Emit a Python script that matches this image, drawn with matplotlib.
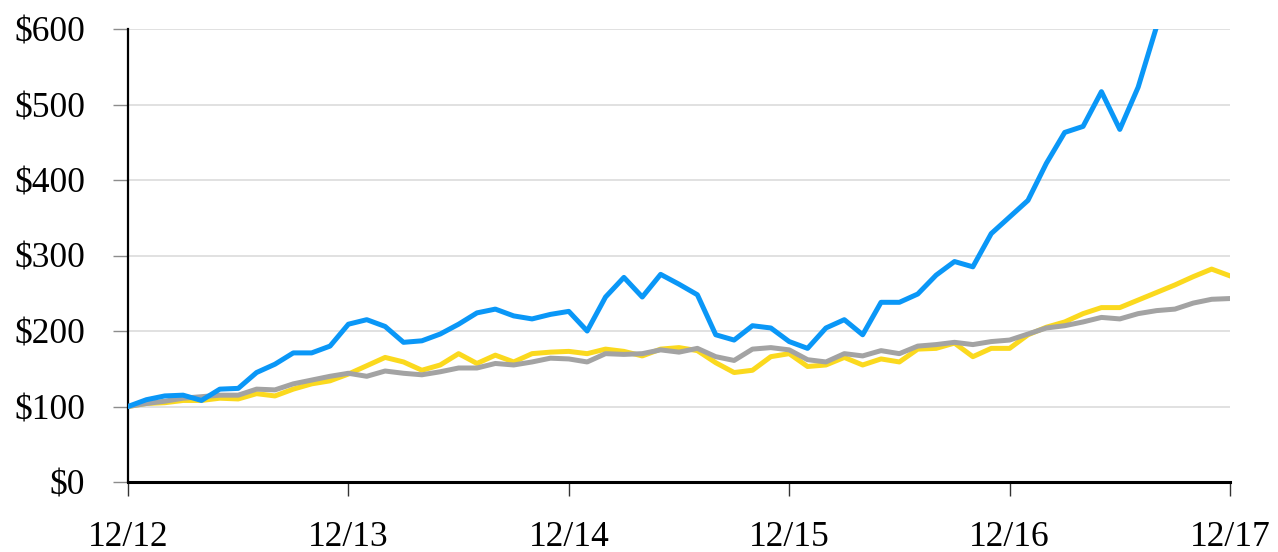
import matplotlib.pyplot as plt

# =========================
# data (monthly, 12/12 = 100)
# =========================

tick_labels = ["12/12", "12/13", "12/14", "12/15", "12/16", "12/17"]

blue_values = [
    100, 109, 114, 115, 108, 123, 124, 145, 156, 171, 171, 180,
    209, 215, 206, 185, 187, 196, 209, 224, 229, 220, 216, 222,
    226, 200, 245, 271, 245, 275, 262, 248, 195, 188, 207, 204,
    186, 177, 204, 215, 195, 238, 238, 249, 274, 292, 285, 329,
    351, 373, 422, 463, 471, 517, 467, 523, 603, 650, 690, 720,
    760,
]

yellow_values = [
    100, 104, 105, 108, 108, 111, 110, 117, 114, 123, 130, 134,
    143, 154, 165, 159, 148, 155, 170, 157, 168, 159, 170, 172,
    173, 170, 176, 173, 167, 176, 178, 174, 158, 145, 148, 166,
    170, 153, 155, 165, 155, 163, 159, 176, 177, 184, 166, 177,
    177, 195, 205, 212, 223, 231, 231, 241, 251, 261, 272, 282,
    273,
]

gray_values = [
    100, 104, 107, 111, 113, 115, 115, 123, 122, 130, 135, 140,
    144, 140, 147, 144, 142, 146, 151, 151, 157, 155, 159, 164,
    163, 159, 170, 169, 170, 175, 172, 177, 166, 161, 176, 178,
    175, 162, 159, 170, 167, 174, 170, 180, 182, 185, 182, 186,
    188, 196, 204, 207, 212, 218, 216, 223, 227, 229, 237, 242,
    243,
]

months = list(range(len(blue_values)))


# =========================
# figure
# =========================

plt.rcParams["font.family"] = ["Liberation Serif", "DejaVu Serif"]

fig = plt.figure(figsize=(12.78, 5.52), dpi=100)
ax = fig.add_axes([128 / 1278, 70 / 552, 1102 / 1278, 453 / 552])

ax.plot(months, yellow_values, color="#FBD91E", linewidth=3.6, zorder=3)
ax.plot(months, gray_values, color="#A3A3A3", linewidth=3.6, zorder=4)
ax.plot(months, blue_values, color="#0A97F7", linewidth=3.6, zorder=5)

ax.set_xlim(0, 60)
ax.set_ylim(0, 600)

ax.set_yticks(range(0, 601, 100))
ax.set_yticklabels([f"${v}" for v in range(0, 601, 100)], fontsize=25.5)
ax.set_xticks(range(0, 61, 12))
ax.set_xticklabels(tick_labels, fontsize=25.5)

ax.grid(axis="y", color="#DCDCDC", linewidth=1.2, zorder=0)
ax.set_axisbelow(True)

ax.tick_params(axis="y", direction="out", length=11, width=1, color="#8C8C8C", pad=20)
ax.tick_params(axis="x", direction="out", length=10, width=1, color="#333333", pad=18)

for side in ["top", "right"]:
    ax.spines[side].set_visible(False)
ax.spines["left"].set_linewidth(1.6)
ax.spines["bottom"].set_linewidth(2.2)

fig.savefig("out.png", dpi=100)
